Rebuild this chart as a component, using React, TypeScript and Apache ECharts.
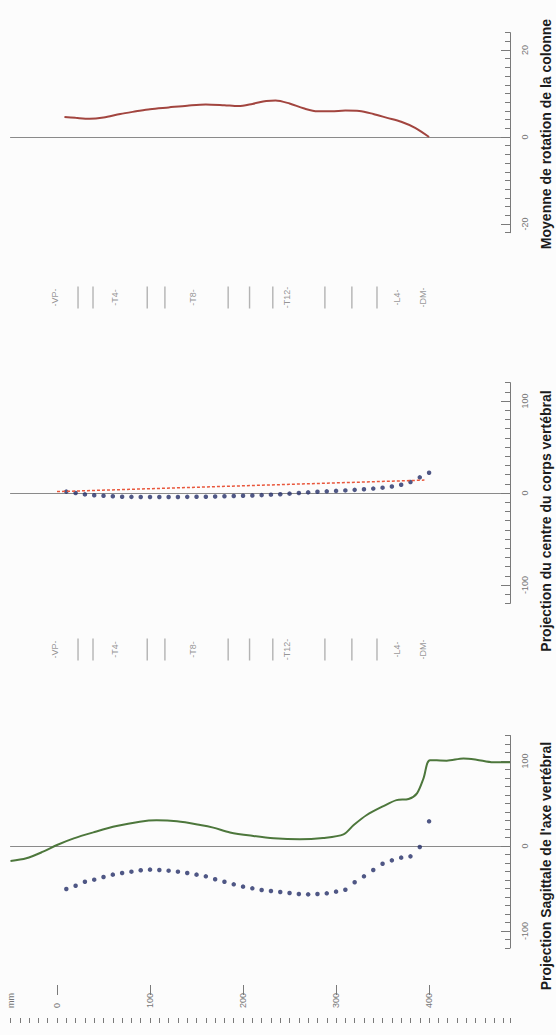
import React, { useEffect, useRef } from "react";
import * as echarts from "echarts";

// Depth positions (mm) of the per-vertebra dots
const dotDepth = [10, 20, 30, 40, 50, 60, 70, 80, 90, 100, 110, 120, 130, 140, 150, 160, 170, 180, 190, 200,
  210, 220, 230, 240, 250, 260, 270, 280, 290, 300, 310, 320, 330, 340, 350, 360, 370, 380, 390, 400];

// Bottom panel: Projection sagittale de l'axe vertébral
const sagittalDots = [-50.6, -46.7, -42.0, -39.6, -36.5, -33.7, -31.8, -30.2, -28.6, -27.8, -28.2, -29.0, -30.2, -31.8,
  -33.7, -35.7, -39.2, -42.0, -45.1, -47.8, -49.8, -51.8, -52.9, -54.1, -55.3, -56.5, -56.9, -56.5, -55.7, -53.7,
  -51.4, -42.7, -35.7, -28.2, -20.8, -16.9, -13.7, -12.2, -1.2, 29.0];
const sagittalCurveDepth = [-50, -33, -15, 0, 18, 39, 64, 89, 107, 129, 154, 168, 186, 211, 233, 261, 286, 308, 319,
  333, 351, 365, 378, 387, 394, 401, 419, 437, 451, 469, 487];
const sagittalCurve = [-17.6, -14.5, -6.7, 1.2, 9, 16, 23.5, 28.6, 30.2, 29, 24.7, 21.6, 16, 11.8, 9, 7.8, 9.4, 13.7,
  24.7, 36.5, 47, 54, 55.3, 62, 79.6, 101, 100.4, 103, 101.5, 98.4, 98.4];

// Middle panel: Projection du centre du corps vertébral
const centreDots = [1.5, 0, -1.5, -2.5, -3, -3.5, -4, -4.2, -4.3, -4.4, -4.4, -4.4, -4.3, -4.2, -4.1, -4, -3.8, -3.6,
  -3.3, -3, -2.7, -2.3, -1.8, -1.3, -0.7, 0, 0.7, 1.3, 1.8, 2.3, 2.8, 3.4, 4, 4.8, 5.8, 7, 9, 12, 17, 22];
const centreLineDepth = [0, 395];
const centreLine = [1.5, 14];

// Top panel: Moyenne de rotation de la colonne
const rotationDepth = [8, 20, 35, 50, 68, 85, 100, 120, 140, 160, 180, 195, 210, 225, 235, 250, 265, 280, 295, 310,
  325, 340, 355, 370, 385, 400];
const rotation = [4.6, 4.4, 4.2, 4.5, 5.3, 5.9, 6.4, 6.8, 7.2, 7.5, 7.3, 7.1, 7.6, 8.3, 8.4, 7.7, 6.6, 5.9, 5.9, 6.1,
  6.0, 5.3, 4.4, 3.5, 2.1, 0];

// Vertebral level markers
const vertebraTickDepth = [22.6, 38.7, 97, 116, 184, 207, 232, 288, 317, 344];
const vertebraNames = ["-VP-", "-T4-", "-T8-", "-T12-", "-L4-", "-DM-"];
const vertebraNameDepth = [-2, 62, 146, 247, 366, 394];

// Axis tick labels
const depthLabels = [-50, 0, 100, 200, 300, 400];
const depthMajor = [0, 100, 200, 300, 400];
const rotationLabels = [-20, 0, 20];
const projLabels = [-100, 0, 100];

const X_MIN = -50;
const X_MAX = 487;
const GRID_L = 10.5;
const GRID_R = 46;
const AXIS_GREY = "#7a7a7a";
const LABEL_GREY = "#777";

function zip(a: number[], b: number[]) {
  return a.map((v, i) => [v, b[i]]);
}

function zeroX(gridIndex: number) {
  return {
    type: "value", gridIndex, min: X_MIN, max: X_MAX,
    axisLine: { show: true, onZero: true, lineStyle: { color: "#8a8a8a", width: 1 } },
    axisTick: { show: false }, axisLabel: { show: false }, splitLine: { show: false },
  };
}
function hiddenX(gridIndex: number) {
  return { type: "value", gridIndex, min: X_MIN, max: X_MAX, show: false };
}
function mainY(gridIndex: number, min: number, max: number, interval: number, labels: number[]) {
  return {
    type: "value", gridIndex, position: "right", min, max, interval,
    axisLine: { show: true, onZero: false, lineStyle: { color: AXIS_GREY, width: 1 } },
    axisTick: { show: true, inside: true, length: 5, lineStyle: { color: AXIS_GREY } },
    axisLabel: {
      show: true, customValues: labels, rotate: 90, margin: 10, fontSize: 9, color: LABEL_GREY,
      fontFamily: "Liberation Sans, Arial, sans-serif",
    },
    splitLine: { show: false },
  };
}
function majorY(gridIndex: number, min: number, max: number, labels: number[]) {
  return {
    type: "value", gridIndex, position: "right", min, max,
    axisLine: { show: false, onZero: false },
    axisTick: { show: true, inside: true, length: 9, customValues: labels, lineStyle: { color: AXIS_GREY } },
    axisLabel: { show: false }, splitLine: { show: false },
  };
}
function hiddenY(gridIndex: number) {
  return { type: "value", gridIndex, min: 0, max: 1, show: false };
}

function vertebraSeries(xi: number, yi: number) {
  return [
    {
      type: "scatter", xAxisIndex: xi, yAxisIndex: yi, symbol: "rect", symbolSize: [1.4, 22],
      itemStyle: { color: "#a0a0a0" }, silent: true,
      data: vertebraTickDepth.map((d) => [d, 0.5]),
    },
    {
      type: "scatter", xAxisIndex: xi, yAxisIndex: yi, symbolSize: 1,
      itemStyle: { color: "rgba(0,0,0,0)" }, silent: true,
      label: {
        show: true, position: "inside", rotate: 90, formatter: "{b}", fontSize: 9, color: "#7a7a7a",
        fontFamily: "Liberation Sans, Arial, sans-serif",
      },
      data: vertebraNames.map((n, i) => ({ name: n, value: [vertebraNameDepth[i], 0.5] })),
    },
  ];
}

export default function App() {
  const ref = useRef<HTMLDivElement>(null);
  useEffect(() => {
    if (!ref.current) return;
    const chart = echarts.init(ref.current, null, { renderer: "svg" });
    const titleFont = 'bold 14px "Liberation Sans", Arial, sans-serif';
    const option: any = {
      animation: false,
      backgroundColor: "#fcfcfc",
      grid: [
        { left: GRID_L, right: GRID_R, top: 32.6, height: 200.1 },
        { left: GRID_L, right: GRID_R, top: 382.6, height: 220.8 },
        { left: GRID_L, right: GRID_R, top: 735.5, height: 212.5 },
        { left: GRID_L, right: GRID_R, top: 280, height: 35 },
        { left: GRID_L, right: GRID_R, top: 632, height: 35 },
        { left: GRID_L, right: GRID_R, top: 985, height: 38 },
      ],
      xAxis: [
        zeroX(0), zeroX(1), zeroX(2), hiddenX(3), hiddenX(4),
        {
          type: "value", gridIndex: 5, min: X_MIN, max: X_MAX, interval: 10,
          axisLine: { show: false },
          axisTick: { show: true, inside: true, length: 5, lineStyle: { color: AXIS_GREY } },
          axisLabel: {
            show: true, inside: true, rotate: 90, margin: 15, fontSize: 9, color: LABEL_GREY,
            customValues: depthLabels,
            fontFamily: "Liberation Sans, Arial, sans-serif",
            formatter: (v: number) => (v === -50 ? "mm" : String(v)),
          },
          splitLine: { show: false },
        },
        {
          type: "value", gridIndex: 5, min: X_MIN, max: X_MAX,
          axisLine: { show: false },
          axisTick: { show: true, inside: true, length: 10, customValues: depthMajor, lineStyle: { color: AXIS_GREY } },
          axisLabel: { show: false }, splitLine: { show: false },
        },
      ],
      yAxis: [
        mainY(0, -22, 24, 2, rotationLabels), majorY(0, -22, 24, rotationLabels),
        mainY(1, -120, 120, 10, projLabels), majorY(1, -120, 120, projLabels),
        mainY(2, -120, 130, 10, projLabels), majorY(2, -120, 130, projLabels),
        hiddenY(3), hiddenY(4), hiddenY(5),
      ],
      graphic: [
        {
          type: "text", x: 546, y: 134, rotation: Math.PI / 2, silent: true,
          style: { text: "Moyenne de rotation de la colonne", font: titleFont, fill: "#1c1c1c", align: "center", verticalAlign: "middle", textAlign: "center", textVerticalAlign: "middle" },
        },
        {
          type: "text", x: 546, y: 521, rotation: Math.PI / 2, silent: true,
          style: { text: "Projection du centre du corps vertébral", font: titleFont, fill: "#1c1c1c", align: "center", verticalAlign: "middle", textAlign: "center", textVerticalAlign: "middle" },
        },
        {
          type: "text", x: 546, y: 866, rotation: Math.PI / 2, silent: true,
          style: { text: "Projection Sagittale de l'axe vertébral", font: titleFont, fill: "#1c1c1c", align: "center", verticalAlign: "middle", textAlign: "center", textVerticalAlign: "middle" },
        },
      ],
      series: [
        {
          type: "line", xAxisIndex: 0, yAxisIndex: 0, smooth: 0.3, showSymbol: false,
          lineStyle: { color: "#a2453f", width: 2 }, data: zip(rotationDepth, rotation),
        },
        {
          type: "line", xAxisIndex: 1, yAxisIndex: 2, showSymbol: false,
          lineStyle: { color: "#e8573c", width: 1.5, type: [3, 2] }, data: zip(centreLineDepth, centreLine),
        },
        {
          type: "scatter", xAxisIndex: 1, yAxisIndex: 2, symbolSize: 4.5,
          itemStyle: { color: "#232d66" }, data: zip(dotDepth, centreDots),
        },
        {
          type: "line", xAxisIndex: 2, yAxisIndex: 4, smooth: 0.3, showSymbol: false,
          lineStyle: { color: "#4d773c", width: 2 }, data: zip(sagittalCurveDepth, sagittalCurve),
        },
        {
          type: "scatter", xAxisIndex: 2, yAxisIndex: 4, symbolSize: 4.5,
          itemStyle: { color: "#232d66" }, data: zip(dotDepth, sagittalDots),
        },
        ...vertebraSeries(3, 6),
        ...vertebraSeries(4, 7),
      ],
    };
    chart.setOption(option);
    return () => chart.dispose();
  }, []);
  return <div ref={ref} style={{ position: "absolute", left: 0, top: 0, width: 556, height: 1035 }} />;
}
